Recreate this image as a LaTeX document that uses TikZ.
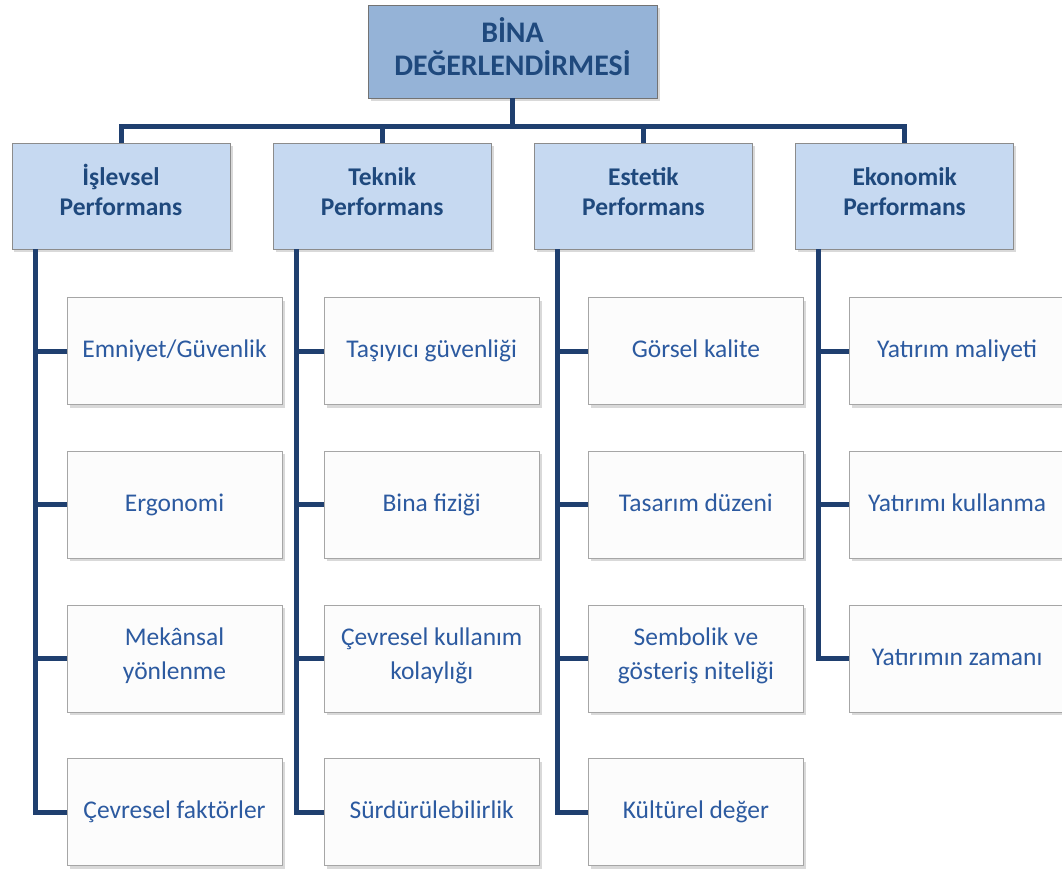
\documentclass[tikz,border=0pt]{standalone}
\usepackage{fontspec}
\setmainfont{Carlito}
\usetikzlibrary{positioning,shadows}
\definecolor{bdnavy}{HTML}{1F3F6F}
\definecolor{bdtop}{HTML}{95B3D7}
\definecolor{bdcat}{HTML}{C6D9F1}
\definecolor{bdink}{HTML}{1F497D}
\definecolor{bdleaf}{HTML}{2C5AA0}
\tikzset{
  leafbox/.style={draw=black!35,fill=white!99!black,minimum width=4.3cm,minimum height=2.14cm,
    align=center,text=bdleaf,font=\fontsize{14.5}{18.8}\selectfont,
    execute at begin node=\strut,execute at end node=\strut,
    drop shadow={shadow xshift=.5mm,shadow yshift=-.6mm,opacity=.3}},
  catbox/.style={leafbox,draw=black!45,fill=bdcat,minimum width=4.36cm,minimum height=2.12cm,
    text=bdink,font=\bfseries\fontsize{14.5}{17}\selectfont},
  topbox/.style={catbox,draw=black!55,fill=bdtop,minimum width=5.78cm,minimum height=1.86cm,
    font=\bfseries\fontsize{17}{18.8}\selectfont},
  conn/.style={draw=bdnavy,line width=1mm},
}

\begin{document}
\begin{tikzpicture}[node distance=0.85cm]
\useasboundingbox (0,0) rectangle (21.24,-17.4);
\node[topbox] (bina) at (10.25,-1.03) {BİNA\\DEĞERLENDİRMESİ};
% ana basliklar
\node[catbox] (islev) at (2.42,-3.92) {\smash{İ}şlevsel\\Performans};
\node[catbox,right=of islev] (teknik) {Teknik\\Performans};
\node[catbox,right=of teknik] (estet) {Estetik\\Performans};
\node[catbox,right=of estet] (ekon) {Ekonomik\\Performans};
% alt kriterler
\node[leafbox,below right=0.96cm and 1.1cm of islev.south west] (emn) {Emniyet/Güvenlik};
\node[leafbox,below=0.92cm of emn] (ergo) {Ergonomi};
\node[leafbox,below=0.92cm of ergo] (mekan) {Mekânsal\\yönlenme};
\node[leafbox,below=0.92cm of mekan] (cevf) {Çevresel faktörler};
\node[leafbox,below right=0.96cm and 1.02cm of teknik.south west] (tasg) {Taşıyıcı güvenliği};
\node[leafbox,below=0.92cm of tasg] (fizik) {Bina fiziği};
\node[leafbox,below=0.92cm of fizik] (cevk) {Çevresel kullanım\\kolaylığı};
\node[leafbox,below=0.92cm of cevk] (surd) {Sürdürülebilirlik};
\node[leafbox,below right=0.96cm and 1.08cm of estet.south west] (gors) {Görsel kalite};
\node[leafbox,below=0.92cm of gors] (tasd) {Tasarım düzeni};
\node[leafbox,below=0.92cm of tasd] (semb) {Sembolik ve\\gösteriş niteliği};
\node[leafbox,below=0.92cm of semb] (kult) {Kültürel değer};
\node[leafbox,below right=0.96cm and 1.08cm of ekon.south west] (ymal) {Yatırım maliyeti};
\node[leafbox,below=0.92cm of ymal] (ykul) {Yatırımı kullanma};
\node[leafbox,below=0.92cm of ykul] (yzam) {Yatırımın zamanı};
% baglantilar
\draw[conn] (bina.south) -- ++(0,-0.56) coordinate (bus);
\draw[conn] (islev.north) |- (bus) -| (ekon.north);
\draw[conn] (teknik.north) |- (bus);
\draw[conn] (estet.north) |- (bus);
\foreach \c/\a/\b/\d/\e in {islev/emn/ergo/mekan/cevf,teknik/tasg/fizik/cevk/surd,estet/gors/tasd/semb/kult}{
  \draw[conn] ([xshift=4.7mm]\c.south west) |- (\a.west);
  \draw[conn] ([xshift=4.7mm]\c.south west) |- (\b.west);
  \draw[conn] ([xshift=4.7mm]\c.south west) |- (\d.west);
  \draw[conn] ([xshift=4.7mm]\c.south west) |- (\e.west);
}
\draw[conn] ([xshift=4.7mm]ekon.south west) |- (ymal.west);
\draw[conn] ([xshift=4.7mm]ekon.south west) |- (ykul.west);
\draw[conn] ([xshift=4.7mm]ekon.south west) |- (yzam.west);
\end{tikzpicture}
\end{document}
